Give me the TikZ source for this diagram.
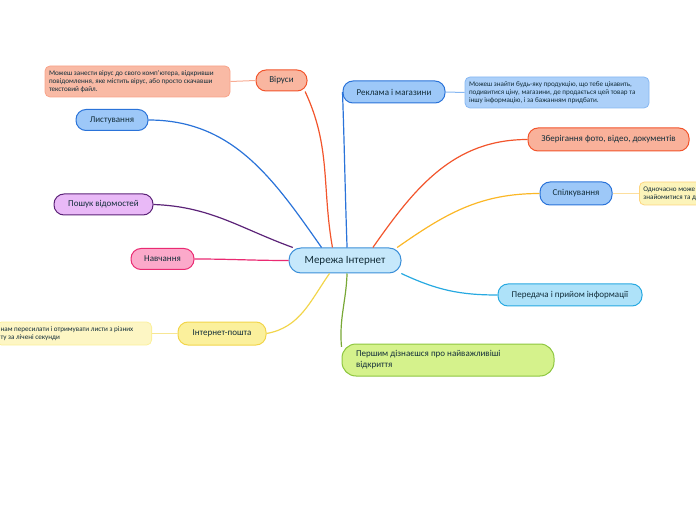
\documentclass[tikz,border=0pt]{standalone}
\usepackage{fontspec}
\setmainfont{Carlito}
\usepackage{tikz}
\usetikzlibrary{positioning}
\usepackage{xcolor}

\definecolor{txt}{HTML}{132E3A}
\definecolor{redline}{HTML}{F2552C}
\definecolor{salmon}{HTML}{F9B6A0}
\definecolor{blueline}{HTML}{2A73D9}
\definecolor{bluefill}{HTML}{9DC8F8}
\definecolor{purpleline}{HTML}{5C2378}
\definecolor{purplefill}{HTML}{E9B9F7}
\definecolor{pinkline}{HTML}{EA2A72}
\definecolor{pinkfill}{HTML}{FBA9CA}
\definecolor{yellowline}{HTML}{F2D54B}
\definecolor{yellowfill}{HTML}{FBF09C}
\definecolor{amber}{HTML}{FBB726}
\definecolor{cyanline}{HTML}{27A9E1}
\definecolor{cyanfill}{HTML}{AEE2F9}
\definecolor{greenline}{HTML}{8DC63F}
\definecolor{greenfill}{HTML}{D5F28C}
\definecolor{centerfill}{HTML}{C6E8FB}
\definecolor{centerline}{HTML}{3B8FD8}

\begin{document}
\begin{tikzpicture}[x=1pt, y=1pt,
    topic/.style={rounded corners=10pt, draw, line width=1pt, text=txt,
        font=\fontsize{9}{11}\selectfont, minimum height=21pt, inner sep=2pt},
    note/.style={rounded corners=5pt, draw, line width=0.8pt, text=txt,
        font=\fontsize{7.1}{8.2}\selectfont, align=flush left, inner xsep=4pt},
    link/.style={line width=1.2pt}]

    \useasboundingbox (0,0) rectangle (696,520);
    \clip (0,0) rectangle (696,520);

    % Central topic
    \node[topic, fill=centerfill, draw=centerline, font=\fontsize{11}{13}\selectfont,
        minimum width=112pt, minimum height=25pt, rounded corners=12pt] at (345,259.5) (net) {Мережа Інтернет};

    % Left branches
    \node[topic, fill=salmon, draw=redline, minimum width=51pt] at (281.5,439.5) (vir) {Віруси};
    \node[note, fill=salmon!95!white, draw=salmon!80!redline, text width=177pt, minimum height=31pt]
        at (137.5,438.5) (virnote) {Можеш занести вірус до свого комп'ютера, відкривши\\повідомлення, яке містить вірус, або просто скачавши\\текстовий файл.};
    \node[topic, fill=bluefill, draw=blueline, minimum width=72pt] at (112,400) (list) {Листування};
    \node[topic, fill=purplefill, draw=purpleline, minimum width=99pt] at (103.5,315.5) (search) {Пошук відомостей};
    \node[topic, fill=pinkfill, draw=pinkline, minimum width=63pt] at (162.5,261) (study) {Навчання};
    \node[topic, fill=yellowfill, draw=yellowline, minimum width=88pt, minimum height=23pt] at (222,186.5) (mail) {Інтернет-пошта};
    \node[note, fill=yellowfill!60!white, draw=yellowfill, text width=147pt, minimum height=23pt,
        anchor=east] at (152,186.5) (mailnote) {нам пересилати і отримувати листи з різних\\ту за лічені секунди};

    % Right branches
    \node[topic, fill=bluefill, draw=blueline, minimum width=102pt, minimum height=22pt] at (394,428) (ads) {Реклама і магазини};
    \node[note, fill=bluefill!85!white, draw=bluefill!80!blueline, text width=176pt, minimum height=31pt]
        at (557,427.5) (adsnote) {Можеш знайти будь-яку продукцію, що тебе цікавить,\\подивитися ціну, магазини, де продається цей товар та\\іншу інформацію, і за бажанням придбати.};
    \node[topic, fill=salmon!95!redline, draw=redline, minimum width=161pt, minimum height=23pt] at (608.5,380.5) (store) {Зберігання фото, відео, документів};
    \node[topic, fill=bluefill, draw=blueline, minimum width=72pt, minimum height=23pt] at (576,326.5) (talk) {Спілкування};
    \node[note, fill=yellowfill!70!white, draw=amber!60!white, text width=80pt, minimum height=23pt,
        anchor=west] at (639,326.5) (talknote) {Одночасно може\\знайомитися та д};
    \node[topic, fill=cyanfill, draw=cyanline, minimum width=144pt, minimum height=22pt] at (570,225) (trans) {Передача і прийом інформації};
    \node[topic, fill=greenfill, draw=greenline, minimum width=212pt, minimum height=32pt, rounded corners=14pt,
        align=flush left, text width=184pt] at (448,160) (first) {Першим дізнаєшся про найважливіші\\відкриття};

    % Connectors
    \draw[link, redline] (vir.-25) to[out=-65, in=100] (net.134);
    \draw[link, blueline] (list.east) to[out=0, in=125] (net.151);
    \draw[link, purpleline] (search.east) to[out=-2, in=160] (net.166);
    \draw[link, pinkline] (study.east) to[out=0, in=180] (net.west);
    \draw[link, yellowline] (mail.east) to[out=10, in=235] (net.220);
    \draw[link, blueline] (ads.west) to[out=-88, in=92] (net.81);
    \draw[link, redline] (store.west) to[out=180, in=55] (net.25);
    \draw[link, amber] (talk.west) to[out=180, in=35] (net.14);
    \draw[link, cyanline] (trans.west) to[out=180, in=-25] (net.-13);
    \draw[link, greenline!85!black] (net.279) to[out=-92, in=95] (first.173);

    % Note links
    \draw[line width=1pt, salmon!90!redline] (vir.west) -- (virnote.east);
    \draw[line width=1pt, bluefill!80!blueline] (ads.east) -- (adsnote.west);
    \draw[line width=1pt, amber!45!white] (talk.east) -- (talknote.west);
    \draw[line width=1pt, yellowline!60!white] (mail.west) -- (mailnote.east);

\end{tikzpicture}
\end{document}
